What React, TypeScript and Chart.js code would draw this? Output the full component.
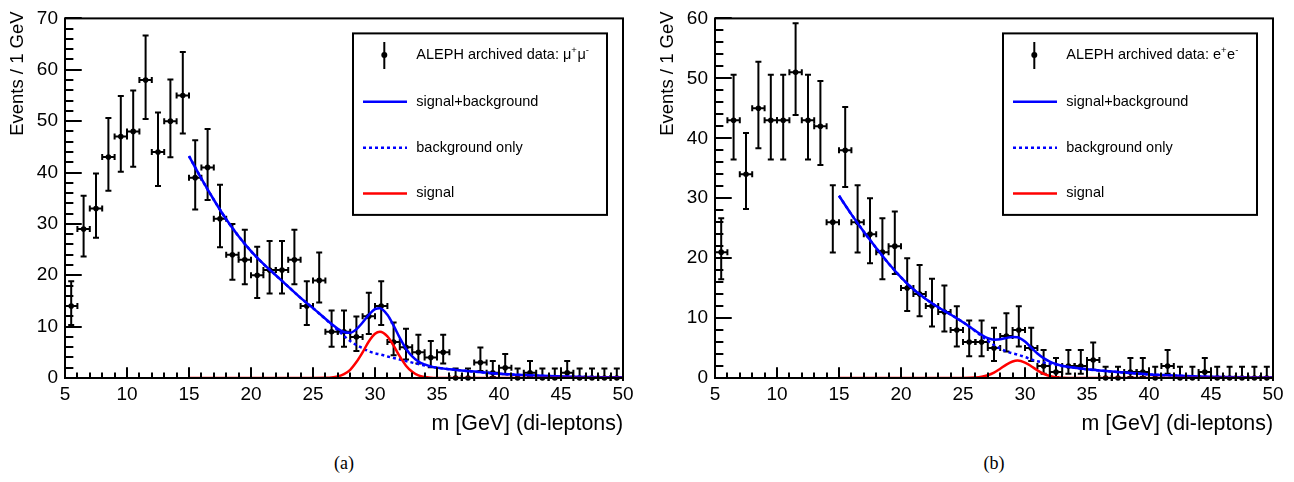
import React, { useEffect, useRef } from "react";
import { Chart, registerables } from "chart.js";

Chart.register(...registerables);

const FONT = '"Liberation Sans", Arial, Helvetica, sans-serif';
const BLUE = "rgb(0,0,255)";
const RED = "rgb(255,0,0)";

// bin centres (1 GeV bins from 5 to 50 GeV)
const binCenters = [
  5.5, 6.5, 7.5, 8.5, 9.5, 10.5, 11.5, 12.5, 13.5, 14.5,
  15.5, 16.5, 17.5, 18.5, 19.5, 20.5, 21.5, 22.5, 23.5, 24.5,
  25.5, 26.5, 27.5, 28.5, 29.5, 30.5, 31.5, 32.5, 33.5, 34.5,
  35.5, 36.5, 37.5, 38.5, 39.5, 40.5, 41.5, 42.5, 43.5, 44.5,
  45.5, 46.5, 47.5, 48.5, 49.5,
];

// (a) mu+mu- events per bin
const countsMuMu = [
  14, 29, 33, 43, 47, 48, 58, 44, 50, 55,
  39, 41, 31, 24, 23, 20, 21, 21, 23, 14,
  19, 9, 9, 8, 12, 14, 7, 6, 5, 4,
  5, 0, 0, 3, 1, 2, 0, 1, 0, 0,
  1, 0, 0, 0, 0,
];

// (b) e+e- events per bin
const countsEE = [
  21, 43, 34, 45, 43, 43, 51, 43, 42, 26,
  38, 26, 24, 21, 22, 15, 14, 12, 11, 8,
  6, 6, 5, 7, 8, 5, 2, 1, 2, 2,
  3, 0, 0, 1, 1, 0, 2, 0, 0, 1,
  0, 0, 0, 0, 0,
];

// fitted curves
const fitXMuMu = [15, 16, 17, 18, 19, 20, 21, 22, 23, 24, 25, 26, 26.5, 27, 27.5, 28, 28.5, 29, 29.5, 30, 30.4, 31, 31.5, 32, 32.5, 33, 33.5, 34, 34.5, 35, 36, 38, 40, 42, 44, 46, 48, 50];
const bgMuMu = [43.2, 38.8, 34.7, 30.9, 27.6, 24.7, 22.2, 20.0, 17.8, 15.6, 13.6, 11.5, 10.4, 9.3, 8.2, 7.2, 6.4, 5.8, 5.2, 4.8, 4.6, 4.2, 3.9, 3.6, 3.3, 3.0, 2.7, 2.45, 2.2, 2.0, 1.7, 1.25, 0.82, 0.56, 0.38, 0.25, 0.17, 0.12];
const sigMuMu = [0, 0, 0, 0, 0, 0, 0, 0, 0, 0, 0, 0.03, 0.1, 0.3, 0.75, 1.6, 3.1, 5.0, 7.1, 8.6, 9.0, 8.1, 6.3, 4.2, 2.4, 1.2, 0.5, 0.2, 0.07, 0.02, 0, 0, 0, 0, 0, 0, 0, 0];

const fitXEE = [15, 16, 17, 18, 19, 20, 21, 22, 23, 24, 25, 26, 26.5, 27, 27.5, 28, 28.5, 29, 29.4, 30, 30.5, 31, 31.5, 32, 32.5, 33, 34, 35, 36, 38, 40, 42, 44, 46, 48, 50];
const bgEE = [30.4, 27.3, 24.4, 21.7, 19.1, 16.8, 14.8, 13.2, 11.8, 10.6, 9.3, 7.8, 7.0, 6.2, 5.5, 4.9, 4.45, 4.1, 3.9, 3.5, 3.1, 2.8, 2.6, 2.4, 2.2, 2.0, 1.7, 1.45, 1.25, 0.9, 0.6, 0.4, 0.25, 0.15, 0.1, 0.07];
const sigEE = [0, 0, 0, 0, 0, 0, 0, 0, 0, 0, 0, 0.07, 0.2, 0.46, 0.9, 1.55, 2.24, 2.75, 2.9, 2.58, 1.97, 1.28, 0.71, 0.33, 0.13, 0.05, 0, 0, 0, 0, 0, 0, 0, 0, 0, 0];

// asymmetric Poisson (Garwood, Gehrels approximation) error bars
function poissonErrors(n: number): [number, number] {
  const hi = Math.sqrt(n + 0.75) + 1;
  if (n <= 0) return [0, hi];
  const l = n * Math.pow(1 - 1 / (9 * n) - 1 / (3 * Math.sqrt(n)), 3);
  return [n - l, hi];
}

const rootStyle = {
  id: "rootStyle",
  beforeDatasetsDraw(chart: any, _a: any, opts: any) {
    const { ctx } = chart;
    const xs = chart.scales.x;
    const ys = chart.scales.y;
    ctx.save();
    ctx.strokeStyle = "#000";
    ctx.lineWidth = 2;
    const cap = 3;
    opts.counts.forEach((n: number, i: number) => {
      const c = binCenters[i];
      const [lo, hi] = poissonErrors(n);
      const px = xs.getPixelForValue(c);
      const py = ys.getPixelForValue(n);
      const xl = xs.getPixelForValue(c - 0.5);
      const xr = xs.getPixelForValue(c + 0.5);
      const yt = ys.getPixelForValue(n + hi);
      const yb = ys.getPixelForValue(n - lo);
      ctx.beginPath();
      ctx.moveTo(xl, py); ctx.lineTo(xr, py);
      ctx.moveTo(xl, py - cap); ctx.lineTo(xl, py + cap);
      ctx.moveTo(xr, py - cap); ctx.lineTo(xr, py + cap);
      ctx.moveTo(px, yt); ctx.lineTo(px, yb);
      ctx.moveTo(px - cap, yt); ctx.lineTo(px + cap, yt);
      if (lo > 0) { ctx.moveTo(px - cap, yb); ctx.lineTo(px + cap, yb); }
      ctx.stroke();
    });
    ctx.restore();
  },
  afterDatasetsDraw(chart: any, _a: any, opts: any) {
    const { ctx, chartArea: ca } = chart;
    const xs = chart.scales.x;
    const ys = chart.scales.y;
    ctx.save();
    ctx.strokeStyle = "#000";
    ctx.lineWidth = 2;
    ctx.beginPath();
    // y-axis ticks (inside)
    const yMajor = 0.03 * (ca.right - ca.left);
    for (let v = 0; v <= opts.yMax; v += 2) {
      const py = Math.round(ys.getPixelForValue(v));
      const len = v % 10 === 0 ? yMajor : yMajor / 2;
      ctx.moveTo(ca.left, py); ctx.lineTo(ca.left + len, py);
    }
    // x-axis ticks (inside)
    const xMajor = 0.03 * (ca.bottom - ca.top);
    for (let v = 5; v <= 50; v += 1) {
      const px = Math.round(xs.getPixelForValue(v));
      const len = v % 5 === 0 ? xMajor : xMajor / 2;
      ctx.moveTo(px, ca.bottom); ctx.lineTo(px, ca.bottom - len);
    }
    ctx.stroke();
    ctx.strokeRect(ca.left, ca.top, ca.right - ca.left, ca.bottom - ca.top);
    ctx.restore();
  },
  afterDraw(chart: any, _a: any, opts: any) {
    const { ctx, chartArea: ca } = chart;
    ctx.save();
    ctx.fillStyle = "#000";
    // axis titles
    ctx.textBaseline = "middle";
    ctx.textAlign = "right";
    ctx.font = `21.4px ${FONT}`;
    ctx.fillText("m [GeV] (di-leptons)", ca.right, 424);
    ctx.save();
    ctx.font = `18.5px ${FONT}`;
    ctx.translate(ca.left - 47, ca.top - 7);
    ctx.rotate(-Math.PI / 2);
    ctx.textAlign = "right";
    ctx.fillText("Events / 1 GeV", 0, 0);
    ctx.restore();

    // legend
    const bx = ca.right - 270;
    const by = ca.top + 15;
    const bw = 254;
    const bh = 181.5;
    ctx.fillStyle = "#fff";
    ctx.fillRect(bx, by, bw, bh);
    ctx.strokeStyle = "#000";
    ctx.lineWidth = 2;
    ctx.strokeRect(bx, by, bw, bh);
    const rows = [by + 21.6, by + 68.3, by + 114.3, by + 160];
    const tx = bx + 63.3;
    // data entry
    ctx.beginPath();
    ctx.moveTo(bx + 31.3, rows[0] - 13);
    ctx.lineTo(bx + 31.3, rows[0] + 14);
    ctx.stroke();
    ctx.fillStyle = "#000";
    ctx.beginPath();
    ctx.arc(bx + 31.3, rows[0], 3, 0, Math.PI * 2);
    ctx.fill();
    const big = `14.5px ${FONT}`;
    const small = `9.5px ${FONT}`;
    ctx.textAlign = "left";
    ctx.textBaseline = "middle";
    let cx = tx;
    ctx.font = big;
    const base = "ALEPH archived data: ";
    ctx.fillText(base, cx, rows[0]);
    cx += ctx.measureText(base).width;
    const parts: [string, boolean][] = [[opts.lepton, false], ["+", true], [opts.lepton, false], ["-", true]];
    for (const [t, sup] of parts) {
      ctx.font = sup ? small : big;
      ctx.fillText(t, cx, sup ? rows[0] - 5 : rows[0]);
      cx += ctx.measureText(t).width + (sup ? 0.5 : 0);
    }
    // line entries
    const lines: [string, string, boolean][] = [
      ["signal+background", BLUE, false],
      ["background only", BLUE, true],
      ["signal", RED, false],
    ];
    lines.forEach(([label, col, dash], k) => {
      const yy = rows[k + 1];
      ctx.strokeStyle = col;
      ctx.lineWidth = 2.5;
      ctx.setLineDash(dash ? [3, 3] : []);
      ctx.beginPath();
      ctx.moveTo(bx + 10, yy);
      ctx.lineTo(bx + 54, yy);
      ctx.stroke();
      ctx.setLineDash([]);
      ctx.font = big;
      ctx.fillStyle = "#000";
      ctx.fillText(label, tx, yy);
    });
    ctx.restore();
  },
};

type PanelProps = {
  counts: number[];
  fitX: number[];
  bg: number[];
  sig: number[];
  yMax: number;
  lepton: string;
  left: number;
  plotLeft: number;
  rightPad: number;
};

function Panel({ counts, fitX, bg, sig, yMax, lepton, left, plotLeft, rightPad }: PanelProps) {
  const ref = useRef<HTMLCanvasElement | null>(null);
  useEffect(() => {
    if (!ref.current) return;
    const tickFont = { family: FONT, size: 19 };
    const chart = new Chart(ref.current, {
      type: "line",
      data: {
        datasets: [
          {
            label: "signal",
            data: fitX.map((x, i) => ({ x, y: sig[i] })),
            borderColor: RED,
            borderWidth: 2.5,
            pointRadius: 0,
            cubicInterpolationMode: "monotone",
            fill: false,
            order: 0,
          },
          {
            label: "signal+background",
            data: fitX.map((x, i) => ({ x, y: bg[i] + sig[i] })),
            borderColor: BLUE,
            borderWidth: 2.5,
            pointRadius: 0,
            cubicInterpolationMode: "monotone",
            fill: false,
            order: 1,
          },
          {
            label: "background only",
            data: fitX.map((x, i) => ({ x, y: bg[i] })),
            borderColor: BLUE,
            borderWidth: 2.5,
            borderDash: [3, 3],
            pointRadius: 0,
            cubicInterpolationMode: "monotone",
            fill: false,
            order: 2,
          },
          {
            label: "data",
            data: binCenters.map((x, i) => ({ x, y: counts[i] })),
            showLine: false,
            pointRadius: 2.8,
            pointBackgroundColor: "#000",
            pointBorderWidth: 0,
            borderColor: "#000",
            clip: false as any,
            order: 3,
          },
        ] as any,
      },
      options: {
        animation: false,
        responsive: false,
        maintainAspectRatio: false,
        devicePixelRatio: 1,
        events: [],
        layout: { padding: { left: 0, right: rightPad, top: 17, bottom: 0 } },
        plugins: {
          legend: { display: false },
          tooltip: { enabled: false },
          rootStyle: { counts, yMax, lepton },
        } as any,
        scales: {
          x: {
            type: "linear",
            min: 5,
            max: 50,
            border: { display: false },
            grid: { display: false, drawTicks: false },
            ticks: { stepSize: 5, autoSkip: false, maxRotation: 0, padding: 5, color: "#000", font: tickFont },
            afterFit: (s: any) => { s.height = 62; },
          },
          y: {
            type: "linear",
            min: 0,
            max: yMax,
            border: { display: false },
            grid: { display: false, drawTicks: false },
            ticks: { stepSize: 10, padding: 7, color: "#000", font: tickFont },
            afterFit: (s: any) => { s.width = plotLeft; },
          },
        } as any,
      },
      plugins: [rootStyle as any],
    });
    return () => chart.destroy();
  }, []);
  return (
    <div style={{ position: "absolute", left, top: 0, width: 647, height: 440 }}>
      <canvas ref={ref} width={647} height={440} style={{ display: "block" }} />
    </div>
  );
}

const captionStyle: React.CSSProperties = {
  position: "absolute",
  top: 453,
  width: 60,
  textAlign: "center",
  fontFamily: '"Liberation Serif", "Times New Roman", serif',
  fontSize: 18,
  color: "#000",
};

export default function App() {
  return (
    <div style={{ position: "absolute", left: 0, top: 0, width: 1294, height: 482, background: "#fff" }}>
      <Panel counts={countsMuMu} fitX={fitXMuMu} bg={bgMuMu} sig={sigMuMu} yMax={70} lepton="μ" left={0} plotLeft={65} rightPad={24} />
      <Panel counts={countsEE} fitX={fitXEE} bg={bgEE} sig={sigEE} yMax={60} lepton="e" left={647} plotLeft={68} rightPad={21} />
      <div style={{ ...captionStyle, left: 344 - 30 }}>(a)</div>
      <div style={{ ...captionStyle, left: 994 - 30 }}>(b)</div>
    </div>
  );
}
